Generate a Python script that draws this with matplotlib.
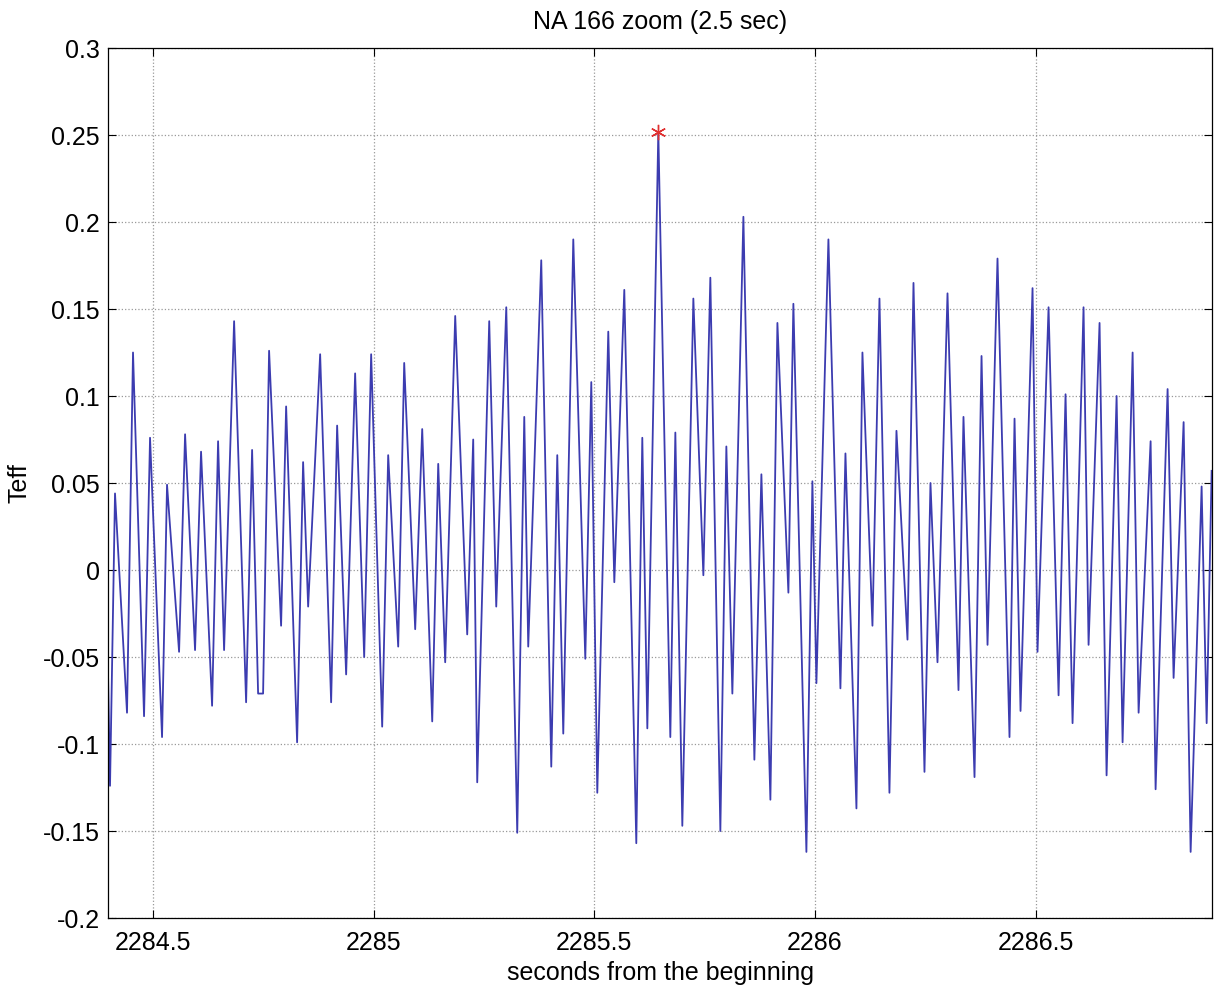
import matplotlib.pyplot as plt
import numpy as np

plt.rcParams['font.family'] = ['Liberation Sans', 'DejaVu Sans']

# extrema (time in seconds, Teff)
t = [2284.398, 2284.4025, 2284.4138, 2284.441, 2284.4546, 2284.4796, 2284.4932, 2284.5204,
     2284.5317, 2284.559, 2284.5726, 2284.5952, 2284.6088, 2284.6338, 2284.6474, 2284.661,
     2284.6837, 2284.7109, 2284.7245, 2284.7381, 2284.7494, 2284.763, 2284.7902, 2284.8016,
     2284.8265, 2284.8401, 2284.8515, 2284.8787, 2284.9036, 2284.9172, 2284.9376, 2284.958,
     2284.9785, 2284.9943, 2285.0193, 2285.0329, 2285.0556, 2285.0692, 2285.0941, 2285.11,
     2285.1327, 2285.1463, 2285.1621, 2285.1848, 2285.212, 2285.2256, 2285.2347, 2285.2619,
     2285.2778, 2285.3005, 2285.3254, 2285.3413, 2285.3503, 2285.3798, 2285.4025, 2285.4161,
     2285.4297, 2285.4524, 2285.4796, 2285.4932, 2285.5068, 2285.5317, 2285.5454, 2285.568,
     2285.5952, 2285.6088, 2285.6202, 2285.6451, 2285.6723, 2285.6837, 2285.6995, 2285.7245,
     2285.7472, 2285.763, 2285.7857, 2285.7993, 2285.8129, 2285.8379, 2285.8628, 2285.8787,
     2285.8991, 2285.915, 2285.9399, 2285.9512, 2285.9807, 2285.9943, 2286.0034, 2286.0306,
     2286.0578, 2286.0692, 2286.0941, 2286.1077, 2286.1304, 2286.1463, 2286.1689, 2286.1848,
     2286.2098, 2286.2234, 2286.2483, 2286.2619, 2286.2778, 2286.3005, 2286.3254, 2286.3367,
     2286.3617, 2286.3776, 2286.3912, 2286.4138, 2286.441, 2286.4524, 2286.466, 2286.4932,
     2286.5045, 2286.5295, 2286.5522, 2286.568, 2286.5839, 2286.6088, 2286.6202, 2286.6451,
     2286.661, 2286.6837, 2286.6973, 2286.72, 2286.7336, 2286.7608, 2286.7721, 2286.7993,
     2286.8129, 2286.8356, 2286.8515, 2286.8764, 2286.8878, 2286.8991]
teff = [-0.06, -0.124, 0.044, -0.082, 0.125, -0.084, 0.076, -0.096,
        0.049, -0.047, 0.078, -0.046, 0.068, -0.078, 0.074, -0.046,
        0.143, -0.076, 0.069, -0.071, -0.071, 0.126, -0.032, 0.094,
        -0.099, 0.062, -0.021, 0.124, -0.076, 0.083, -0.06, 0.113,
        -0.05, 0.124, -0.09, 0.066, -0.044, 0.119, -0.034, 0.081,
        -0.087, 0.061, -0.053, 0.146, -0.037, 0.075, -0.122, 0.143,
        -0.021, 0.151, -0.151, 0.088, -0.044, 0.178, -0.113, 0.066,
        -0.094, 0.19, -0.051, 0.108, -0.128, 0.137, -0.007, 0.161,
        -0.157, 0.076, -0.091, 0.252, -0.096, 0.079, -0.147, 0.156,
        -0.003, 0.168, -0.15, 0.071, -0.071, 0.203, -0.109, 0.055,
        -0.132, 0.142, -0.013, 0.153, -0.162, 0.051, -0.065, 0.19,
        -0.068, 0.067, -0.137, 0.125, -0.032, 0.156, -0.128, 0.08,
        -0.04, 0.165, -0.116, 0.05, -0.053, 0.159, -0.069, 0.088,
        -0.119, 0.123, -0.043, 0.179, -0.096, 0.087, -0.081, 0.162,
        -0.047, 0.151, -0.072, 0.101, -0.088, 0.151, -0.043, 0.142,
        -0.118, 0.1, -0.099, 0.125, -0.082, 0.074, -0.126, 0.104,
        -0.062, 0.085, -0.162, 0.048, -0.088, 0.057]

xticks = [2284.5, 2285, 2285.5, 2286, 2286.5]
yticks = [-0.2, -0.15, -0.1, -0.05, 0, 0.05, 0.1, 0.15, 0.2, 0.25, 0.3]

t = np.array(t)
teff = np.array(teff)
imax = np.argmax(teff)

fig = plt.figure(figsize=(12.18, 9.9), dpi=100)
ax = fig.add_axes([0.0887, 0.0727, 0.9064, 0.8788])

ax.plot(t, teff, color='#3c3cb0', lw=1.3)
# MATLAB-like asterisk at the maximum
ax.plot(t[imax], teff[imax], marker=(6, 2, 0), color='#e03030', ms=11, mew=1.0, ls='none')

ax.set_xlim(2284.398, 2286.9)
ax.set_ylim(-0.2, 0.3)
ax.set_xticks(xticks)
ax.set_xticklabels([f'{v:g}' for v in xticks])
ax.set_yticks(yticks)
ax.set_yticklabels([f'{v:g}' for v in yticks])
ax.tick_params(direction='in', length=6, labelsize=18, top=True, right=True, width=0.8)
ax.tick_params(axis='x', pad=9)
ax.tick_params(axis='y', pad=6)
ax.grid(True, ls=':', color='#999999', lw=0.9)
for s in ax.spines.values():
    s.set_linewidth(0.9)

ax.set_title('NA 166 zoom (2.5 sec)', fontsize=18, pad=14)
ax.set_xlabel('seconds from the beginning', fontsize=18, labelpad=5)
ax.set_ylabel('Teff', fontsize=18, labelpad=8)

fig.savefig('out.png', dpi=100)
